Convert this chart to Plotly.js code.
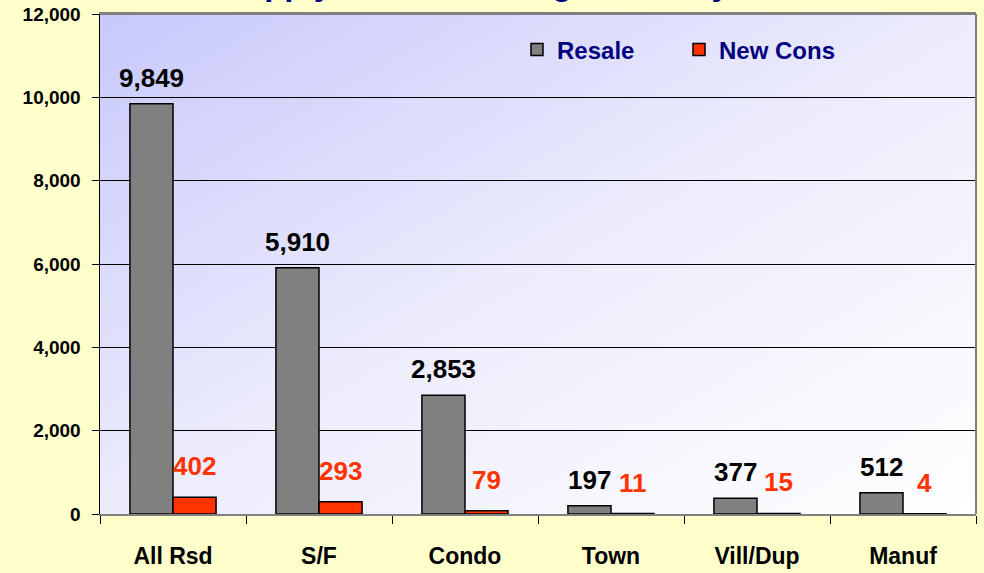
<!DOCTYPE html>
<html>
<head>
<meta charset="utf-8">
<script src="https://cdn.plot.ly/plotly-3.0.1.min.js"></script>
<style>
html,body{margin:0;padding:0;background:#FFFFCC;}
#chart{width:984px;height:573px;}
</style>
</head>
<body>
<div id="chart"></div>
<script>
const categories = ['All Rsd', 'S/F', 'Condo', 'Town', 'Vill/Dup', 'Manuf'];
const resale = [9849, 5910, 2853, 197, 377, 512];
const newCons = [402, 293, 79, 11, 15, 4];
const seriesNames = ['Resale', 'New Cons'];
const yTicks = [0, 2000, 4000, 6000, 8000, 10000, 12000];
const titleText = 'Supply of the Housing Inventory';

const BARGAP = 0.41;
const half = (1 - BARGAP) / 4; // centre offset of each bar within its group

const fmt = v => v.toLocaleString('en-US');

const traces = [
  {
    type: 'bar', name: seriesNames[0], x: categories, y: resale,
    marker: {color: '#808080', line: {color: '#000000', width: 1.5}},
    hoverinfo: 'x+y'
  },
  {
    type: 'bar', name: seriesNames[1], x: categories, y: newCons,
    marker: {color: '#FF3300', line: {color: '#000000', width: 1.5}},
    hoverinfo: 'x+y'
  }
];

const annotations = [];
categories.forEach((c, i) => {
  annotations.push({
    x: i - half, y: resale[i], xref: 'x', yref: 'y', text: fmt(resale[i]),
    showarrow: false, yanchor: 'middle', yshift: 26,
    font: {family: 'Arial, Liberation Sans, sans-serif', size: 26, color: '#000000', weight: 'bold'}
  });
  annotations.push({
    x: i + half, y: newCons[i], xref: 'x', yref: 'y', text: fmt(newCons[i]),
    showarrow: false, yanchor: 'middle', yshift: 31,
    font: {family: 'Arial, Liberation Sans, sans-serif', size: 26, color: '#FF3300', weight: 'bold'}
  });
});
annotations.push({
  x: (220 - 100) / 876, y: 1, xref: 'paper', yref: 'paper', xanchor: 'left', yanchor: 'bottom',
  yshift: 10, showarrow: false, text: '<b>' + titleText + '</b>',
  font: {family: 'Arial, Liberation Sans, sans-serif', size: 33, color: '#000080'}
});

const gradSvg = '<svg xmlns="http://www.w3.org/2000/svg" width="876" height="500" viewBox="0 0 876 500" preserveAspectRatio="none">' +
  '<defs><linearGradient id="g" x1="0" y1="0" x2="1" y2="1">' +
  '<stop offset="0" stop-color="#C8C8FC"/><stop offset="0.5" stop-color="#ECECFC"/><stop offset="1" stop-color="#FFFFFF"/>' +
  '</linearGradient></defs><rect width="876" height="500" fill="url(#g)"/></svg>';

const layout = {
  width: 984, height: 573,
  margin: {l: 100, r: 8, t: 14, b: 59, pad: 0},
  paper_bgcolor: '#FFFFCC',
  plot_bgcolor: 'rgba(0,0,0,0)',
  barmode: 'group', bargap: BARGAP, bargroupgap: 0,
  showlegend: true,
  legend: {
    orientation: 'h', x: (517 - 100) / 876, xanchor: 'left', y: (514 - 50) / 500, yanchor: 'middle',
    bgcolor: 'rgba(0,0,0,0)', entrywidth: 117, entrywidthmode: 'pixels',
    font: {family: 'Arial, Liberation Sans, sans-serif', size: 24, color: '#000080', weight: 'bold'}
  },
  xaxis: {
    type: 'category', showgrid: false, zeroline: false,
    showline: true, linecolor: '#808080', linewidth: 2, mirror: true,
    ticks: 'outside', tickson: 'boundaries', ticklen: 8, tickcolor: '#000000', tickwidth: 1,
    ticklabelstandoff: 20,
    tickfont: {family: 'Arial, Liberation Sans, sans-serif', size: 23, color: '#000000', weight: 'bold'}
  },
  yaxis: {
    range: [0, 12000], tickvals: yTicks, ticktext: yTicks.map(fmt),
    showgrid: true, gridcolor: '#000000', gridwidth: 1, zeroline: false,
    showline: true, linecolor: '#000000', linewidth: 1.5,
    ticks: 'outside', ticklen: 7, tickcolor: '#000000', tickwidth: 1,
    ticklabelstandoff: 7,
    tickfont: {family: 'Arial, Liberation Sans, sans-serif', size: 19, color: '#000000', weight: 'bold'}
  },
  images: [{
    source: 'data:image/svg+xml;charset=utf-8,' + encodeURIComponent(gradSvg),
    xref: 'paper', yref: 'paper', x: 0, y: 1, sizex: 1, sizey: 1,
    xanchor: 'left', yanchor: 'top', sizing: 'stretch', layer: 'below'
  }],
  shapes: [
    {type: 'line', xref: 'paper', yref: 'paper', x0: 0, x1: 1, y0: 1, y1: 1, line: {color: '#808080', width: 2}},
    {type: 'line', xref: 'paper', yref: 'paper', x0: 1, x1: 1, y0: 0, y1: 1, line: {color: '#808080', width: 2}}
  ],
  annotations: annotations
};

Plotly.newPlot('chart', traces, layout, {displayModeBar: false, staticPlot: true});
</script>
</body>
</html>
